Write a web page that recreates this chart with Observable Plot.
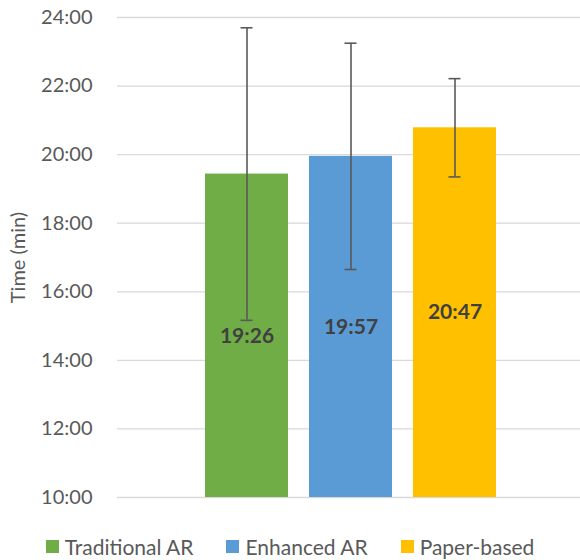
<!DOCTYPE html>
<html>
<head>
<meta charset="utf-8">
<script src="https://cdn.jsdelivr.net/npm/d3@7"></script>
<script src="https://cdn.jsdelivr.net/npm/@observablehq/plot@0.6"></script>
<style>
  body { margin: 0; background: #fff; font-family: Lato, "Open Sans", sans-serif; }
  #legend { display: flex; justify-content: center; gap: 33px; height: 40px; align-items: center; padding-top: 12px; box-sizing: border-box; font-size: 21px; color: #595959; }
  .item { display: flex; align-items: center; }
  .sw { width: 13px; height: 13px; margin-right: 6px; display: inline-block; }
</style>
</head>
<body>
<div id="chart"></div>
<div id="legend"></div>
<script>
const categories = ["Traditional AR", "Enhanced AR", "Paper-based"];
const meanSeconds = [1166, 1197, 1247];   // 19:26, 19:57, 20:47
const sdSeconds = [256, 198, 86];
const colors = ["#70AD47", "#5B9BD5", "#FFC000"];
const yTicks = [600, 720, 840, 960, 1080, 1200, 1320, 1440];

const fmt = s => {
  const m = Math.floor(s / 60), sec = Math.round(s - m * 60);
  return `${m}:${String(sec).padStart(2, "0")}`;
};

const data = categories.map((c, i) => ({
  cat: c, mean: meanSeconds[i], lo: meanSeconds[i] - sdSeconds[i], hi: meanSeconds[i] + sdSeconds[i]
}));

const chart = Plot.plot({
  width: 580,
  height: 520,
  marginTop: 17,
  marginBottom: 23,
  marginLeft: 117,
  marginRight: 0,
  style: { fontFamily: "Lato, 'Open Sans', sans-serif", fontSize: "20px", color: "#595959", background: "#fff" },
  x: { domain: categories, range: [117, 585], paddingInner: 0.2, paddingOuter: 0.85, axis: null },
  y: { domain: [600, 1440], range: [497, 17] },
  color: { domain: categories, range: colors },
  marks: [
    Plot.gridY(yTicks, { stroke: "#d9d9d9", strokeOpacity: 1, strokeWidth: 1.3 }),
    Plot.axisY(yTicks, { tickSize: 0, tickPadding: 25, tickFormat: fmt, label: null, fill: "#595959", fontSize: 20 }),
    Plot.text(["Time (min)"], { frameAnchor: "left", textAnchor: "middle", rotate: -90, dx: -99, fill: "#595959", fontSize: 20 }),
    Plot.barY(data, { x: "cat", y1: 600, y2: "mean", fill: "cat" }),
    Plot.ruleX(data, { x: "cat", y1: "lo", y2: "hi", stroke: "#595959", strokeWidth: 1.6 }),
    Plot.tickY(data, { x: "cat", y: "lo", stroke: "#595959", strokeWidth: 1.6, insetLeft: 35.5, insetRight: 35.5 }),
    Plot.tickY(data, { x: "cat", y: "hi", stroke: "#595959", strokeWidth: 1.6, insetLeft: 35.5, insetRight: 35.5 }),
    Plot.text(data, { x: "cat", y: d => (600 + d.mean) / 2, text: d => fmt(d.mean), fill: "#404040", fontWeight: "bold", fontSize: 21 })
  ]
});
document.getElementById("chart").appendChild(chart);

const legend = document.getElementById("legend");
categories.forEach((c, i) => {
  const it = document.createElement("div");
  it.className = "item";
  it.innerHTML = `<span class="sw" style="background:${colors[i]}"></span><span>${c}</span>`;
  legend.appendChild(it);
});
</script>
</body>
</html>
